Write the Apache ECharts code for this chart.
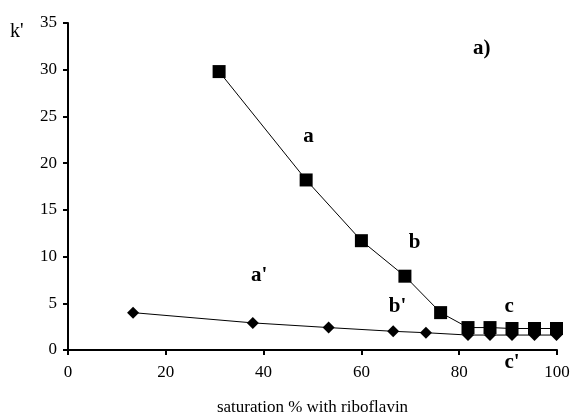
<!DOCTYPE html>
<html>
<head>
<meta charset="utf-8">
<script src="https://cdn.jsdelivr.net/npm/echarts@6/dist/echarts.min.js"></script>
<style>
  html, body { margin: 0; padding: 0; background: #fff; }
  #chart { width: 571px; height: 418px; }
</style>
</head>
<body>
<div id="chart"></div>
<script>
// 数据：饱和度(%) 与 k'
const satA = [30.9, 48.7, 60.0, 68.9, 76.2, 81.8, 86.3, 90.8, 95.4, 99.9];
const kA = [29.8, 18.2, 11.7, 7.9, 4.0, 2.4, 2.4, 2.3, 2.3, 2.3];
const satB = [13.3, 37.8, 53.3, 66.5, 73.2, 81.8, 86.3, 90.8, 95.4, 99.9];
const kB = [4.0, 2.9, 2.4, 2.0, 1.85, 1.6, 1.6, 1.6, 1.6, 1.6];

// 注释文字（数据坐标）
const noteText = ['a', 'b', 'c', "a'", "b'", "c'", 'a)'];
const noteX = [49.2, 70.9, 90.2, 39.1, 67.4, 90.8, 84.6];
const noteY = [22.8, 11.5, 4.6, 8.0, 4.6, -1.3, 32.3];

const xTicks = [0, 20, 40, 60, 80, 100];
const yTicks = [0, 5, 10, 15, 20, 25, 30, 35];

const zip = (xs, ys) => xs.map((x, i) => [x, ys[i]]);
const serif = '"Liberation Serif", "DejaVu Serif", serif';

const chart = echarts.init(document.getElementById('chart'));
chart.setOption({
  animation: false,
  backgroundColor: '#fff',
  grid: { left: 68, right: 14, top: 23, bottom: 68, outerBoundsMode: 'none', containLabel: false },
  xAxis: {
    type: 'value',
    min: xTicks[0],
    max: xTicks[xTicks.length - 1],
    interval: 20,
    name: 'saturation % with riboflavin',
    nameLocation: 'middle',
    nameGap: 49,
    nameTextStyle: { fontFamily: serif, fontSize: 17, color: '#000' },
    axisLine: { lineStyle: { color: '#000', width: 2 } },
    axisTick: { length: 5, lineStyle: { color: '#000', width: 2 } },
    axisLabel: { fontFamily: serif, fontSize: 17, color: '#000', margin: 14 },
    splitLine: { show: false }
  },
  yAxis: {
    type: 'value',
    min: yTicks[0],
    max: yTicks[yTicks.length - 1],
    interval: 5,
    axisLine: { show: true, lineStyle: { color: '#000', width: 2 } },
    axisTick: { show: true, length: 5, lineStyle: { color: '#000', width: 2 } },
    axisLabel: { fontFamily: serif, fontSize: 17, color: '#000', margin: 11 },
    splitLine: { show: false }
  },
  graphic: [{
    type: 'text', left: 10, top: 22,
    style: { text: "k'", font: '20px ' + serif, fill: '#000' }
  }],
  series: [
    {
      type: 'line',
      data: zip(satA, kA),
      symbol: 'rect',
      symbolSize: 13,
      itemStyle: { color: '#000' },
      lineStyle: { color: '#000', width: 1 },
      z: 3
    },
    {
      type: 'line',
      data: zip(satB, kB),
      symbol: 'diamond',
      symbolSize: 12,
      itemStyle: { color: '#000' },
      lineStyle: { color: '#000', width: 1 },
      z: 3
    },
    {
      type: 'scatter',
      data: noteText.map((t, i) => ({ value: [noteX[i], noteY[i]], name: t })),
      symbolSize: 0,
      silent: true,
      itemStyle: { opacity: 1, color: '#000' },
      label: {
        show: true,
        position: 'inside',
        formatter: p => p.name,
        fontFamily: serif,
        fontWeight: 'bold',
        fontSize: 21,
        color: '#000',
        opacity: 1
      },
      clip: false,
      z: 4
    }
  ]
});
</script>
</body>
</html>
